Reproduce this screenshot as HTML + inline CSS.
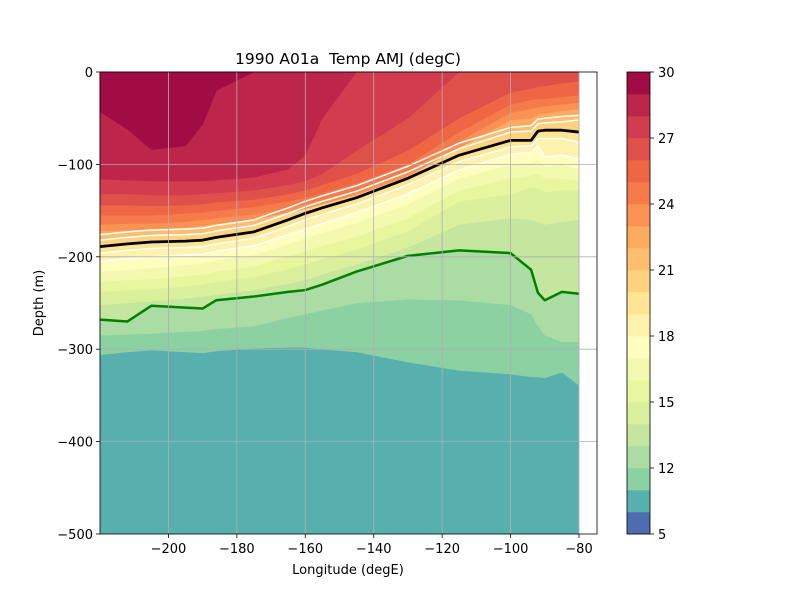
<!DOCTYPE html>
<html><head><meta charset="utf-8"><style>
body{margin:0;background:#fff}
svg{display:block;font-family:"DejaVu Sans","Liberation Sans",sans-serif}
text{white-space:pre}
</style></head><body>
<svg id="c" width="800" height="600" viewBox="0 0 800 600"></svg>
<script>
const lons=[-220,-212,-205,-195,-190,-186,-175,-165,-160,-155,-145,-130,-115,-100,-94,-92,-90,-85,-80];
const levels=[11,12,13,14,15,16,17,18,19,20,21,22,23,24,25,26,27,28,29];
const iso={
11:[306,303,301,303,304,302,299,298,298,300,303,314,323,327,330,330,331,325,339],
12:[285,284,283,281,280,278,275,266,262,258,250,246,247,252,262,275,285,292,292],
13:[268,270,253,255,256,247,243,238,236,230,216,199,193,196,214,239,247,238,240],
14:[252,250,248,245,243,241,236,229,225,219,208,190,165,158,160,162,165,162,160],
15:[238,236,235,232,230,227,222,213,208,202,192,172,140,132,125,126,130,128,128],
16:[227,225,224,221,219,216,210,199,194,188,178,158,128,115,112,110,115,115,118],
17:[216,214,212,209,207,204,198,186,180,174,163,143,115,100,98,95,102,100,105],
18:[205,202,200,198,197,194,188,176,170,164,152,132,106,89,87,80,92,90,94],
19:[196,193,191,190,189,186,180,167,160,154,143,122,97,81,80,72,72,72,76],
20:[189,186,184,183,182,179,173,160,153,147,136,115,90,74,74,64,63,63,65],
21:[182,179,177,176,175,172,166,153,146,140,129,108,83,65,64,56,55,54,52],
22:[176,173,171,170,169,166,160,147,140,134,123,102,77,60,58,51,50,48,47],
23:[172,171,170,168,166,164,160,152,148,143,133,113,82,52,50,46,45,42,40],
24:[165,164,164,162,160,158,154,147,143,138,128,108,75,44,40,38,37,35,33],
25:[155,155,155,153,152,150,146,140,136,131,120,100,65,35,30,29,29,27,25],
26:[144,144,145,144,143,141,138,132,128,122,110,85,50,22,18,16,15,12,10],
27:[132,132,133,133,132,131,128,122,118,110,85,50,0,0,0,0,0,0,0],
28:[116,117,118,118,118,117,114,105,90,50,0,0,0,0,0,0,0,0,0],
29:[43,62,84,80,57,20,0,0,0,0,0,0,0,0,0,0,0,0,0]};
const cbLevels=[5,10,11,12,13,14,15,16,17,18,19,20,21,22,23,24,25,26,27,28,29,30];
const cbTicks=[5,12,15,18,21,24,27,30];
const xTicks=[-200,-180,-160,-140,-120,-100,-80];
const yTicks=[0,-100,-200,-300,-400,-500];
const colors={5:"#4d6db0",10:"#57b0ae",11:"#8bd1a2",12:"#aadca4",13:"#c4e69f",14:"#daf09c",15:"#e8f69d",16:"#f3faaf",17:"#feffbf",18:"#fff2ac",19:"#fee593",20:"#fed27f",21:"#fdbf6f",22:"#fdab5f",23:"#fa9254",24:"#f67b4a",25:"#ef6645",26:"#e0504b",27:"#d33c4e",28:"#bd254a",29:"#a10c44"};
const X0=100,X1=597,Y0=72,Y1=534;
const xs=v=>X0+(v+220)*(479/140);
const ys=d=>Y0+d*(462/500);
const NS="http://www.w3.org/2000/svg";
const svg=document.getElementById('c');
function mk(t,a,p){const e=document.createElementNS(NS,t);for(const k in a)e.setAttribute(k,a[k]);(p||svg).appendChild(e);return e;}
const plot=mk('g',{});


const base=mk('rect',{x:xs(-220),y:Y0,width:xs(-80)-xs(-220),height:Y1-Y0,fill:colors[10]},plot);


levels.forEach(L=>{
  const d=iso[L];
  let pts=`${xs(lons[0])},${Y0} `;
  lons.forEach((lo,i)=>pts+=`${xs(lo)},${ys(d[i])} `);
  pts+=`${xs(lons[lons.length-1])},${Y0}`;
  const p=mk('polygon',{points:pts,fill:colors[L],stroke:colors[L],'stroke-width':0.5},plot);
  
  
});
function line(L,col,w){
  const pts=lons.map((lo,i)=>`${xs(lo)},${ys(iso[L][i])}`).join(' ');
  const p=mk('polyline',{points:pts,fill:'none',stroke:col,'stroke-width':w,'stroke-linejoin':'round'},plot);
  
  
}
[18,19,21,22].forEach(L=>line(L,'#fff',1.5));
line(20,'#000',2.8);
line(13,'#008000',2.5);
xTicks.forEach(t=>{
  const g=mk('line',{x1:xs(t),x2:xs(t),y1:Y0,y2:Y1,stroke:'#b0b0b0','stroke-width':0.8});
  
  
  mk('line',{x1:xs(t),x2:xs(t),y1:Y1,y2:Y1+4,stroke:'#000','stroke-width':0.8});
  const tx=mk('text',{x:xs(t),y:Y1+19,'text-anchor':'middle','font-size':13});
  tx.textContent='\u2212'+Math.abs(t);
  
  
});
yTicks.forEach(t=>{
  const y=ys(-t);
  if(t!==0&&t!==-500){const g=mk('line',{x1:X0,x2:X1,y1:y,y2:y,stroke:'#b0b0b0','stroke-width':0.8});
  
  }
  mk('line',{x1:X0-4,x2:X0,y1:y,y2:y,stroke:'#000','stroke-width':0.8});
  const tx=mk('text',{x:X0-7,y:y+5,'text-anchor':'end','font-size':13});
  tx.textContent=t===0?'0':'\u2212'+Math.abs(t);
  
  
});
const fr=mk('rect',{x:X0,y:Y0,width:X1-X0,height:Y1-Y0,fill:'none',stroke:'#000','stroke-width':0.8});


const ti=mk('text',{x:348,y:64,'text-anchor':'middle','font-size':15.5});
ti.textContent='1990 A01a  Temp AMJ (degC)';


const xl=mk('text',{x:348,y:574,'text-anchor':'middle','font-size':13});
xl.textContent='Longitude (degE)';


const yl=mk('text',{x:43,y:303,'text-anchor':'middle','font-size':13,transform:'rotate(-90 43 303)'});
yl.textContent='Depth (m)';


const CX=627,CW=23;
const cb=v=>v<=10?Y1-(v-5)/5*22:Y1-22-(v-10)*22;
for(let i=0;i<cbLevels.length-1;i++){
  const a=cbLevels[i],b=cbLevels[i+1];
  const r=mk('rect',{x:CX,y:cb(b),width:CW,height:cb(a)-cb(b)+0.3,fill:colors[a]});
  
  
}
const cf=mk('rect',{x:CX,y:Y0,width:CW,height:Y1-Y0,fill:'none',stroke:'#000','stroke-width':0.8});


cbTicks.forEach(t=>{
  mk('line',{x1:CX+CW,x2:CX+CW+4,y1:cb(t),y2:cb(t),stroke:'#000','stroke-width':0.8});
  const tx=mk('text',{x:CX+CW+8,y:cb(t)+5,'font-size':13});
  tx.textContent=t;
  
  
});
</script>
</body></html>
